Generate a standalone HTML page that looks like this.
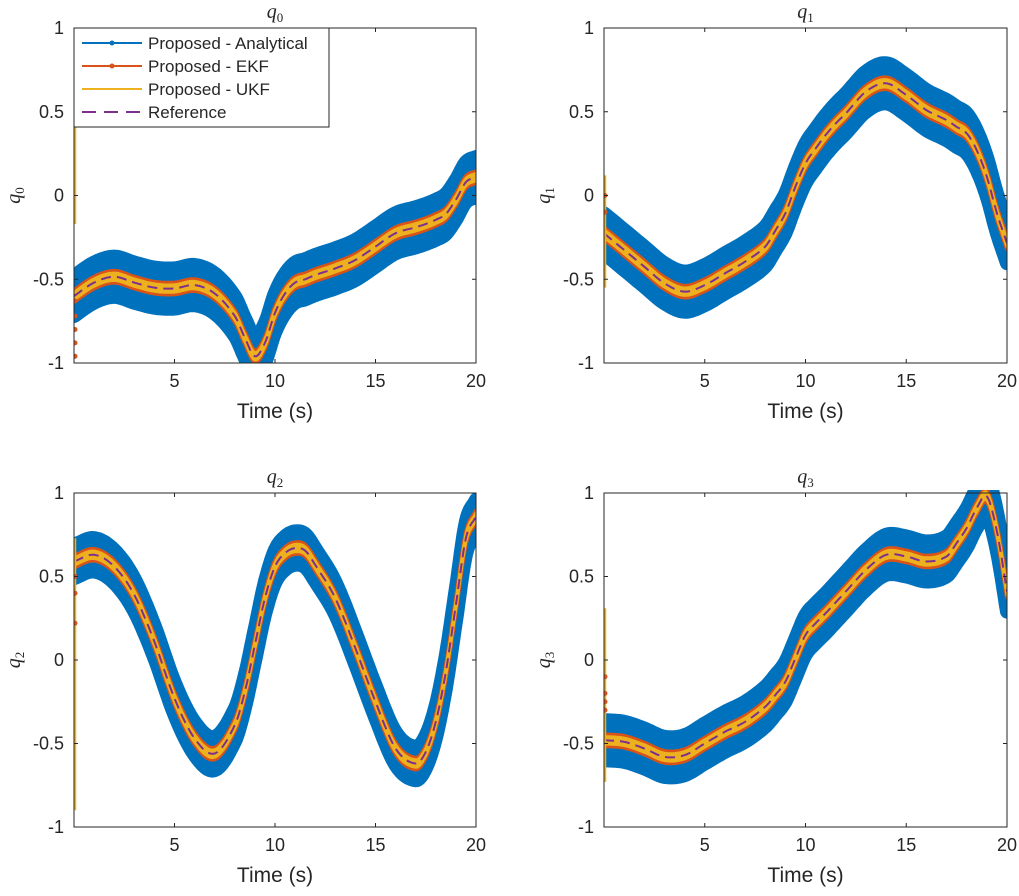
<!DOCTYPE html>
<html><head><meta charset="utf-8">
<style>
body{margin:0;background:#fff;}
svg text{font-family:"Liberation Sans",sans-serif;fill:#262626;}
.ser{font-family:"Liberation Serif",serif;font-style:italic;}
</style></head>
<body>
<svg id="fig" width="1019" height="891" xmlns="http://www.w3.org/2000/svg"></svg>
<script>
const times=[0,1,2,3,4,5,6,7,8,8.5,9,9.5,10,10.5,11,11.5,12,13,14,15,16,17,17.5,18,18.5,19,19.5,20];
const q0Ref=[-0.60,-0.52,-0.485,-0.52,-0.55,-0.555,-0.535,-0.585,-0.72,-0.85,-0.96,-0.88,-0.70,-0.585,-0.52,-0.50,-0.475,-0.435,-0.385,-0.305,-0.225,-0.19,-0.17,-0.145,-0.11,-0.025,0.08,0.11];
const q1Ref=[-0.226,-0.325,-0.425,-0.524,-0.574,-0.535,-0.465,-0.395,-0.305,-0.21,-0.106,0.053,0.192,0.28,0.361,0.43,0.49,0.62,0.67,0.6,0.51,0.45,0.41,0.371,0.27,0.112,-0.106,-0.285];
const q2Ref=[0.59,0.63,0.56,0.39,0.11,-0.23,-0.47,-0.56,-0.39,-0.19,0.09,0.37,0.56,0.64,0.67,0.655,0.57,0.37,0.07,-0.25,-0.53,-0.62,-0.55,-0.37,-0.07,0.33,0.73,0.86];
const q3Ref=[-0.48,-0.49,-0.53,-0.58,-0.57,-0.50,-0.43,-0.37,-0.28,-0.21,-0.13,0.01,0.15,0.22,0.28,0.345,0.41,0.54,0.63,0.62,0.59,0.62,0.70,0.79,0.91,0.98,0.77,0.41];
const ukfSpikes=[[0.65,-0.17],[0.12,-0.55],[0.73,-0.9],[0.31,-0.73]];
const ekfDots=[[-0.63,-0.72,-0.8,-0.88,-0.96],[0.0,-0.1],[0.5,0.4,0.22],[-0.1,-0.2,-0.25,-0.3]];
const analyticalSpread=[0.12,0.12,0.10,0.12];
const ekfSpread=0.035;
const ukfSpread=0.022;
const xTicks=[5,10,15,20];
const yTicks=[-1,-0.5,0,0.5,1];
const yTickLabels=["-1","-0.5","0","0.5","1"];
const panelNames=["q0","q1","q2","q3"];
const series=[q0Ref,q1Ref,q2Ref,q3Ref];

const svg=document.getElementById('fig');
const NS="http://www.w3.org/2000/svg";
function mk(tag,attrs,parent){const e=document.createElementNS(NS,tag);for(const k in attrs)e.setAttribute(k,attrs[k]);(parent||svg).appendChild(e);return e;}
function smooth(ts,vs){
  const out=[];
  for(let i=0;i<ts.length-1;i++){
    const p0=vs[Math.max(0,i-1)],p1=vs[i],p2=vs[i+1],p3=vs[Math.min(vs.length-1,i+2)];
    const t0=ts[Math.max(0,i-1)],t1=ts[i],t2=ts[i+1],t3=ts[Math.min(ts.length-1,i+2)];
    const m1=(p2-p0)/((t2-t0)||1)*(t2-t1), m2=(p3-p1)/((t3-t1)||1)*(t2-t1);
    for(let s=0;s<8;s++){
      const u=s/8,h00=2*u*u*u-3*u*u+1,h10=u*u*u-2*u*u+u,h01=-2*u*u*u+3*u*u,h11=u*u*u-u*u;
      out.push([t1+u*(t2-t1),h00*p1+h10*m1+h01*p2+h11*m2]);
    }
  }
  out.push([ts[ts.length-1],vs[vs.length-1]]);
  return out;
}
const boxes=[{x0:74,x1:476,y0:28,y1:363},{x0:604,x1:1007,y0:28,y1:363},{x0:74,x1:476,y0:493,y1:827},{x0:604,x1:1007,y0:493,y1:827}];

boxes.forEach((b,i)=>{
  const sx=t=>b.x0+(t-0)/20*(b.x1-b.x0);
  const sy=v=>b.y1-(v+1)/2*(b.y1-b.y0);
  const g=mk('g',{});
  
  
  const clipId='clip'+i;
  const cp=mk('clipPath',{id:clipId},g);
  mk('rect',{x:b.x0,y:b.y0-3,width:b.x1-b.x0,height:b.y1-b.y0+3},cp);
  const sm=smooth(times,series[i]);
  const band=h=>{
    const up=sm.map(p=>sx(p[0]).toFixed(1)+','+sy(p[1]+h).toFixed(1));
    const dn=sm.slice().reverse().map(p=>sx(p[0]).toFixed(1)+','+sy(p[1]-h).toFixed(1));
    return up.concat(dn).join(' ');
  };
  const pts=sm.map(p=>sx(p[0]).toFixed(1)+','+sy(p[1]).toFixed(1)).join(' ');
  const dg=mk('g',{'clip-path':'url(#'+clipId+')'},g);
  const blue=mk('polygon',{points:band(analyticalSpread[i]),fill:'#0072BD',stroke:'#0072BD','stroke-width':14,'stroke-linejoin':'round'},dg);
  
  
  const ekf=mk('polygon',{points:band(ekfSpread),fill:'#D95319',stroke:'#D95319','stroke-width':4,'stroke-linejoin':'round'},dg);
  
  
  const ukf=mk('polygon',{points:band(ukfSpread),fill:'#EDB120',stroke:'#EDB120','stroke-width':3,'stroke-linejoin':'round'},dg);
  
  
  const ref=mk('polyline',{points:pts,fill:'none',stroke:'#7E2F8E','stroke-width':2,'stroke-dasharray':'10,6'},dg);
  
  
  const us=ukfSpikes[i];
  const ul=mk('line',{x1:b.x0+1,x2:b.x0+1,y1:sy(us[0]),y2:sy(us[1]),stroke:'#EDB120','stroke-width':2.5},dg);
  
  
  ekfDots[i].forEach(v=>{
    const d=mk('circle',{cx:b.x0+1,cy:sy(v),r:2.5,fill:'#D95319'},dg);
    
    
  });
  const ax=mk('rect',{x:b.x0,y:b.y0,width:b.x1-b.x0,height:b.y1-b.y0,fill:'none',stroke:'#262626','stroke-width':1},g);
  
  
  xTicks.forEach(t=>{
    const x=sx(t);
    mk('line',{x1:x,x2:x,y1:b.y1,y2:b.y1-4,stroke:'#262626'},g);
    mk('line',{x1:x,x2:x,y1:b.y0,y2:b.y0+4,stroke:'#262626'},g);
    const tl=mk('text',{x:x,y:b.y1+24,'font-size':18,'text-anchor':'middle'},g);
    tl.textContent=String(t);
    
    
  });
  yTicks.forEach((v,k)=>{
    const y=sy(v);
    mk('line',{x1:b.x0,x2:b.x0+4,y1:y,y2:y,stroke:'#262626'},g);
    mk('line',{x1:b.x1,x2:b.x1-4,y1:y,y2:y,stroke:'#262626'},g);
    const tl=mk('text',{x:b.x0-10,y:y+6,'font-size':18,'text-anchor':'end'},g);
    tl.textContent=yTickLabels[k];
    
    
  });
  const xl=mk('text',{x:(b.x0+b.x1)/2,y:b.y1+55,'font-size':21,'text-anchor':'middle'},g);
  xl.textContent='Time (s)';
  
  
  const idx=panelNames[i].slice(1);
  const tt=mk('text',{x:(b.x0+b.x1)/2,y:b.y0-10,'font-size':20,'text-anchor':'middle',class:'ser'},g);
  tt.innerHTML='q<tspan font-size="13" dy="4" font-style="normal">'+idx+'</tspan>';
  
  
  const cy=(b.y0+b.y1)/2;
  const yl=mk('text',{x:0,y:0,'font-size':20,'text-anchor':'middle',class:'ser',transform:'translate('+(b.x0-54)+','+cy+') rotate(-90)'},g);
  yl.innerHTML='q<tspan font-size="13" dy="4" font-style="normal">'+idx+'</tspan>';
  
  
});

const lg=mk('g',{});


mk('rect',{x:74,y:28,width:255,height:99,fill:'#fff',stroke:'#262626','stroke-width':1},lg);
const legendLabels=['Proposed - Analytical','Proposed - EKF','Proposed - UKF','Reference'];
const legendColors=['#0072BD','#D95319','#EDB120','#7E2F8E'];
legendLabels.forEach((lab,k)=>{
  const y=43+k*23;
  const e=mk('g',{},lg);
  
  
  const attrs={x1:82,x2:142,y1:y,y2:y,stroke:legendColors[k],'stroke-width':2};
  if(k===3){attrs['stroke-dasharray']='14,8';}
  mk('line',attrs,e);
  if(k<2) mk('circle',{cx:112,cy:y,r:2.5,fill:legendColors[k]},e);
  const t=mk('text',{x:148,y:y+6,'font-size':17},e);
  t.textContent=lab;
});
</script>
</body></html>
